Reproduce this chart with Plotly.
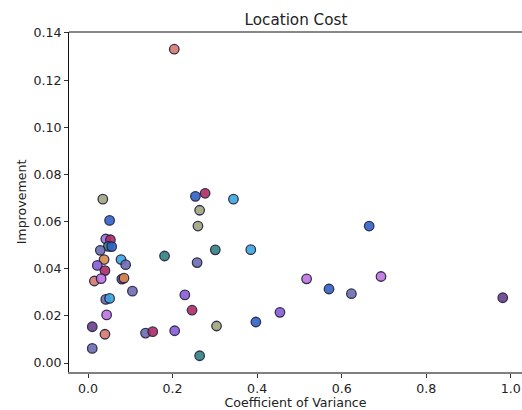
import plotly.graph_objects as go

# Data (Coefficient of Variance vs Improvement)
cov = [0.204, 0.035, 0.051, 0.042, 0.053, 0.048, 0.056, 0.029, 0.038, 0.078,
       0.089, 0.022, 0.040, 0.015, 0.031, 0.080, 0.085, 0.105, 0.181, 0.042,
       0.051, 0.044, 0.010, 0.040, 0.136, 0.153, 0.205, 0.229, 0.246, 0.254,
       0.277, 0.344, 0.264, 0.260, 0.301, 0.385, 0.258, 0.304, 0.397, 0.264,
       0.454, 0.665, 0.517, 0.570, 0.623, 0.693, 0.981, 0.010]
improvement = [0.1331, 0.0695, 0.0605, 0.0526, 0.0523, 0.0495, 0.0494, 0.0478, 0.0439, 0.0439,
               0.0417, 0.0414, 0.0392, 0.0348, 0.0358, 0.0356, 0.0360, 0.0305, 0.0454, 0.0270,
               0.0274, 0.0204, 0.0154, 0.0122, 0.0127, 0.0133, 0.0137, 0.0289, 0.0224, 0.0707,
               0.0720, 0.0695, 0.0648, 0.0581, 0.0480, 0.0481, 0.0426, 0.0157, 0.0174, 0.0031,
               0.0215, 0.0581, 0.0357, 0.0314, 0.0294, 0.0367, 0.0277, 0.0062]

SALMON, KHAKI, BLUE, CRIMSON = "#d87a6a", "#a3a47c", "#2f62c8", "#b02a62"
CYAN, TEAL, SLATE, VIOLET = "#39a6e0", "#2f8282", "#6c6cb2", "#8a5ad8"
ORCHID, DPURPLE, ORANGE, LAVENDER = "#c272e2", "#6a3f8c", "#d98a4c", "#a070e2"

point_colors = [SALMON, KHAKI, BLUE, LAVENDER, CRIMSON, TEAL, BLUE, SLATE, ORANGE, CYAN,
                SLATE, VIOLET, CRIMSON, SALMON, ORCHID, DPURPLE, ORANGE, SLATE, TEAL, SLATE,
                CYAN, ORCHID, DPURPLE, SALMON, SLATE, CRIMSON, VIOLET, VIOLET, CRIMSON, BLUE,
                CRIMSON, CYAN, KHAKI, KHAKI, TEAL, CYAN, SLATE, KHAKI, BLUE, TEAL,
                VIOLET, BLUE, ORCHID, BLUE, SLATE, ORCHID, DPURPLE, SLATE]

x_ticks = [0.0, 0.2, 0.4, 0.6, 0.8, 1.0]
x_tick_labels = ["0.0", "0.2", "0.4", "0.6", "0.8", "1.0"]
y_ticks = [0.00, 0.02, 0.04, 0.06, 0.08, 0.10, 0.12, 0.14]
y_tick_labels = ["0.00", "0.02", "0.04", "0.06", "0.08", "0.10", "0.12", "0.14"]

FONT = "DejaVu Sans"
FS = 12.6

fig = go.Figure()
fig.add_trace(go.Scatter(
    x=cov, y=improvement, mode="markers",
    marker=dict(size=9.5, color=point_colors, opacity=0.9,
                line=dict(color="#1c1c3c", width=1.3)),
    showlegend=False, hoverinfo="x+y",
))

fig.update_layout(
    width=522, height=410,
    margin=dict(l=69, r=0, t=32, b=38),
    paper_bgcolor="white", plot_bgcolor="white",
    font=dict(family=FONT, size=FS, color="#222222"),
    title=dict(text="Location Cost", x=0.567, xanchor="center", y=0.953, yanchor="middle",
               font=dict(family=FONT, size=15.2, color="#222222")),
    xaxis=dict(range=[-0.045, 1.0265], tickvals=x_ticks, ticktext=x_tick_labels,
               showgrid=False, zeroline=False, showline=True, linecolor="#808080", linewidth=2,
               ticks="outside", ticklen=4, tickcolor="#333333", tickwidth=1,
               tickfont=dict(family=FONT, size=FS),
               title=dict(text="Coefficient of Variance", standoff=2,
                          font=dict(family=FONT, size=FS))),
    yaxis=dict(range=[-0.0038, 0.1404], tickvals=y_ticks, ticktext=y_tick_labels,
               showgrid=False, zeroline=False, showline=True, linecolor="#111111", linewidth=1,
               ticks="outside", ticklen=4, tickcolor="#333333", tickwidth=1,
               tickfont=dict(family=FONT, size=FS),
               title=dict(text="Improvement", standoff=4,
                          font=dict(family=FONT, size=FS))),
)
fig.add_shape(type="line", xref="paper", yref="paper", x0=0, x1=1, y0=1, y1=1,
              line=dict(color="#111111", width=1))

fig.write_html("out.html")
